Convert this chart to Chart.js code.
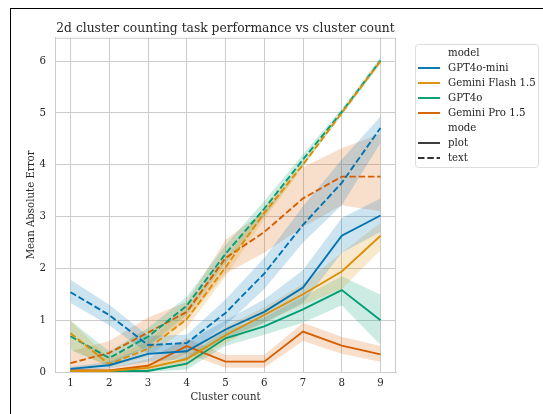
<!DOCTYPE html>
<html>
<head>
<meta charset="utf-8">
<script src="https://cdn.jsdelivr.net/npm/chart.js@4.4.1/dist/chart.umd.min.js"></script>
<style>
  body { margin: 0; background: #fff; }
  #wrap { position: relative; width: 543px; height: 414px; }
  #frame { position: absolute; left: 10px; top: 8px; right: -5px; bottom: -5px;
           border-left: 1px solid #000; border-top: 1px solid #000; pointer-events: none; }
</style>
</head>
<body>
<div id="wrap">
  <canvas id="myChart" width="543" height="414"></canvas>
  <div id="frame"></div>
</div>
<script>
const clusterCounts = [1, 2, 3, 4, 5, 6, 7, 8, 9]
const yTicks = [0, 1, 2, 3, 4, 5, 6]
const models = ['GPT4o-mini', 'Gemini Flash 1.5', 'GPT4o', 'Gemini Pro 1.5']
const colors = ['#0173b2', '#de8f05', '#029e73', '#d55e00']

// mode = plot
const miniPlot   = [0.06, 0.13, 0.35, 0.40, 0.82, 1.16, 1.63, 2.63, 3.02]
const miniPlotLo = [0.02, 0.07, 0.20, 0.25, 0.65, 0.95, 1.33, 2.30, 2.70]
const miniPlotHi = [0.10, 0.20, 0.50, 0.58, 1.00, 1.40, 1.97, 2.97, 3.35]
const flashPlot   = [0.02, 0.02, 0.08, 0.25, 0.71, 1.10, 1.50, 1.94, 2.63]
const flashPlotLo = [0.00, 0.00, 0.02, 0.12, 0.55, 0.95, 1.30, 1.60, 2.35]
const flashPlotHi = [0.05, 0.05, 0.15, 0.40, 0.88, 1.25, 1.70, 2.30, 2.88]
const gpt4oPlot   = [0.02, 0.02, 0.02, 0.16, 0.65, 0.88, 1.21, 1.58, 1.00]
const gpt4oPlotLo = [0.00, 0.00, 0.00, 0.05, 0.50, 0.72, 0.95, 1.29, 0.52]
const gpt4oPlotHi = [0.05, 0.05, 0.05, 0.30, 0.80, 1.05, 1.45, 1.85, 1.49]
const proPlot   = [0.03, 0.03, 0.12, 0.50, 0.20, 0.20, 0.78, 0.51, 0.34]
const proPlotLo = [0.00, 0.00, 0.02, 0.35, 0.08, 0.08, 0.60, 0.35, 0.20]
const proPlotHi = [0.08, 0.08, 0.25, 0.65, 0.33, 0.33, 0.95, 0.68, 0.50]

// mode = text
const miniText   = [1.54, 1.10, 0.52, 0.56, 1.14, 1.90, 2.84, 3.65, 4.71]
const miniTextLo = [1.33, 0.90, 0.35, 0.37, 0.90, 1.60, 2.50, 3.22, 4.42]
const miniTextHi = [1.78, 1.30, 0.70, 0.72, 1.40, 2.20, 3.20, 4.10, 4.93]
const flashText   = [0.75, 0.15, 0.45, 1.02, 2.02, 3.07, 4.00, 5.00, 6.00]
const flashTextLo = [0.45, 0.08, 0.30, 0.85, 1.85, 2.95, 3.95, 4.98, 5.97]
const flashTextHi = [1.00, 0.25, 0.60, 1.25, 2.20, 3.20, 4.05, 5.02, 6.03]
const gpt4oText   = [0.69, 0.27, 0.68, 1.28, 2.28, 3.15, 4.10, 5.02, 6.01]
const gpt4oTextLo = [0.42, 0.12, 0.50, 1.10, 2.10, 3.00, 3.98, 4.95, 5.95]
const gpt4oTextHi = [0.99, 0.40, 0.85, 1.45, 2.45, 3.30, 4.20, 5.08, 6.08]
const proText   = [0.17, 0.37, 0.76, 1.16, 2.20, 2.70, 3.35, 3.77, 3.77]
const proTextLo = [0.05, 0.15, 0.50, 1.00, 1.90, 2.30, 2.80, 3.22, 3.10]
const proTextHi = [0.40, 0.60, 1.05, 1.35, 2.55, 3.10, 3.95, 4.32, 4.60]

const plotMeans = [miniPlot, flashPlot, gpt4oPlot, proPlot]
const plotLows = [miniPlotLo, flashPlotLo, gpt4oPlotLo, proPlotLo]
const plotHighs = [miniPlotHi, flashPlotHi, gpt4oPlotHi, proPlotHi]
const textMeans = [miniText, flashText, gpt4oText, proText]
const textLows = [miniTextLo, flashTextLo, gpt4oTextLo, proTextLo]
const textHighs = [miniTextHi, flashTextHi, gpt4oTextHi, proTextHi]

const FONT = 'DejaVu Serif'
const SMALL = 10.2
const DASH = [6.5, 2.8]

function pts(arr) {
    return clusterCounts.map((x, i) => ({x: x, y: arr[i]}))
}

function hexA(hex, a) {
    const n = parseInt(hex.slice(1), 16)
    return `rgba(${n >> 16},${(n >> 8) & 255},${n & 255},${a})`
}

let datasets = []
function addSeries(mean, lo, hi, color, dashed, label) {
    datasets.push({data: pts(hi), borderWidth: 0, pointRadius: 0, fill: false, order: 1})
    datasets.push({data: pts(lo), borderWidth: 0, pointRadius: 0, fill: '-1',
        backgroundColor: hexA(color, 0.2), order: 1})
    datasets.push({label: label, data: pts(mean), borderColor: color, borderWidth: 1.9,
        borderDash: dashed ? DASH : [], pointRadius: 0, fill: false, order: 0})
}
for (let m = 0; m < models.length; m++) {
    addSeries(plotMeans[m], plotLows[m], plotHighs[m], colors[m], false, models[m] + ' plot')
    addSeries(textMeans[m], textLows[m], textHighs[m], colors[m], true, models[m] + ' text')
}

// frame around plot area
const framePlugin = {
    id: 'frameBox',
    afterDraw(chart) {
        const {ctx, chartArea: a} = chart
        ctx.save()
        ctx.strokeStyle = '#cccccc'
        ctx.lineWidth = 1
        ctx.strokeRect(a.left + 0.5, a.top + 0.5, a.right - a.left - 1, a.bottom - a.top)
        ctx.restore()
    }
}

// seaborn-like legend with two header rows
const legendPlugin = {
    id: 'sbLegend',
    afterDraw(chart) {
        const ctx = chart.ctx
        const bx = 415, by = 44, bw = 123, bh = 123
        ctx.save()
        ctx.fillStyle = 'rgba(255,255,255,0.8)'
        ctx.strokeStyle = '#dddddd'
        ctx.lineWidth = 1
        ctx.beginPath()
        ctx.roundRect(bx + 0.5, by + 0.5, bw, bh, 3)
        ctx.fill()
        ctx.stroke()
        const rows = [
            {text: 'model'},
            {text: models[0], color: colors[0]},
            {text: models[1], color: colors[1]},
            {text: models[2], color: colors[2]},
            {text: models[3], color: colors[3]},
            {text: 'mode'},
            {text: 'plot', color: '#333333'},
            {text: 'text', color: '#333333', dash: true}
        ]
        ctx.font = `${SMALL}px "${FONT}"`
        ctx.textBaseline = 'middle'
        rows.forEach((r, i) => {
            const y = by + 9 + i * 15
            ctx.fillStyle = '#262626'
            ctx.fillText(r.text, 448, y)
            if (r.color) {
                ctx.strokeStyle = r.color
                ctx.lineWidth = 1.9
                ctx.setLineDash(r.dash ? DASH : [])
                ctx.beginPath()
                ctx.moveTo(418, y)
                ctx.lineTo(440, y)
                ctx.stroke()
                ctx.setLineDash([])
            }
        })
        ctx.restore()
    }
}

const ctx = document.getElementById('myChart')
const myChart = new Chart(ctx, {
    type: 'line',
    data: {datasets: datasets},
    options: {
        responsive: false,
        animation: false,
        layout: {padding: {left: 0, right: 147, top: 0, bottom: 0}},
        plugins: {
            legend: {display: false},
            tooltip: {enabled: false},
            title: {
                display: true,
                fullSize: false,
                text: '2d cluster counting task performance vs cluster count',
                color: '#262626',
                font: {family: FONT, size: 12.3, weight: 'normal'},
                padding: {top: 21, bottom: 2}
            }
        },
        scales: {
            x: {
                type: 'linear',
                min: 0.6,
                max: 9.4,
                afterBuildTicks: (scale) => { scale.ticks = clusterCounts.map(v => ({value: v})) },
                afterFit: (scale) => { scale.height = 42 },
                grid: {color: '#cccccc', drawTicks: false},
                border: {color: '#cccccc'},
                ticks: {color: '#262626', font: {family: FONT, size: SMALL}, padding: 5,
                    callback: (v) => v},
                title: {display: true, text: 'Cluster count', color: '#262626',
                    font: {family: FONT, size: SMALL}, padding: {top: 0, bottom: 11}}
            },
            y: {
                min: 0,
                max: 6.45,
                afterBuildTicks: (scale) => { scale.ticks = yTicks.map(v => ({value: v})) },
                afterFit: (scale) => { scale.width = 55 },
                grid: {color: '#cccccc', drawTicks: false},
                border: {color: '#cccccc'},
                ticks: {color: '#262626', font: {family: FONT, size: SMALL}, padding: 9},
                title: {display: true, text: 'Mean Absolute Error', color: '#262626',
                    font: {family: FONT, size: SMALL}, padding: {top: 25, bottom: 0}}
            }
        }
    },
    plugins: [framePlugin, legendPlugin]
})
</script>
</body>
</html>
